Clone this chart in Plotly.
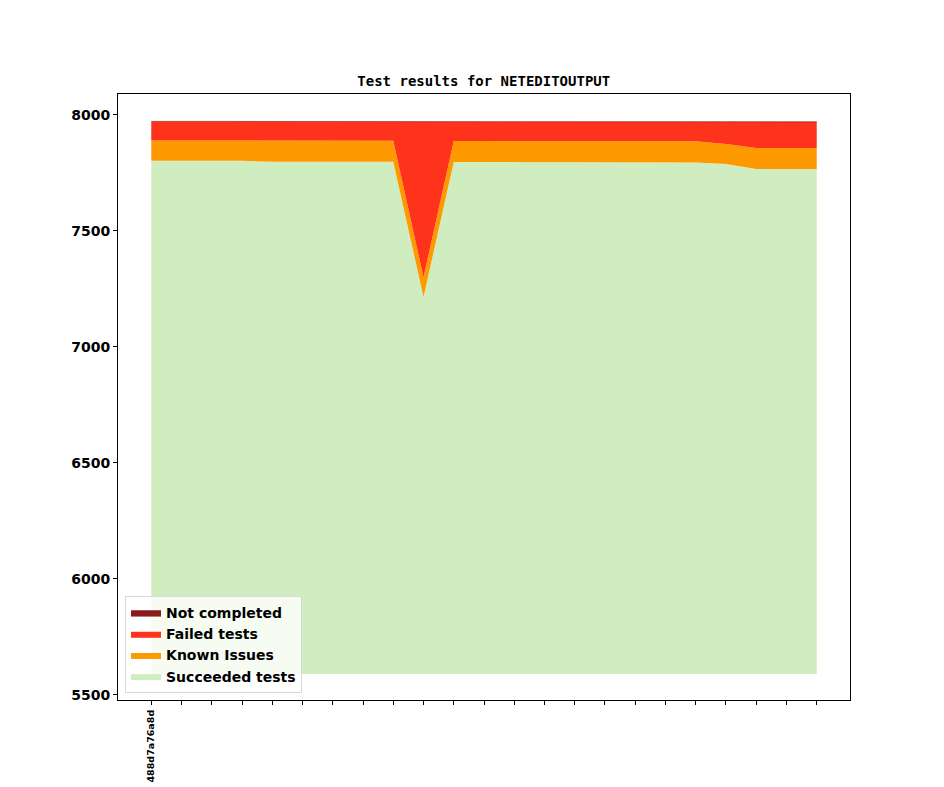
import numpy as np
import plotly.graph_objects as go

# Test runs (one per commit), only the first commit is labelled.
commits = ["488d7a76a8d"] + [""] * 22

# Series values.
floor = [5590] * 23
succeeded = [7802, 7802, 7802, 7802, 7798, 7798, 7798, 7798, 7798, 7215, 7797, 7797,
             7797, 7797, 7797, 7797, 7797, 7797, 7795, 7788, 7767, 7767, 7767]
known_issues = [88, 88, 88, 88, 90, 90, 90, 90, 90, 85, 90, 90,
                90, 90, 90, 90, 90, 90, 91, 87, 90, 90, 90]
failed = [81, 81, 81, 81, 83, 83, 83, 83, 83, 671, 84, 84,
          84, 84, 84, 84, 84, 84, 85, 96, 112, 112, 112]
not_completed = [1] * 23

x = list(range(len(commits)))

# Stack the layers on top of the floor.
layers = [
    ("Succeeded tests", succeeded, "#cfedbf"),
    ("Known Issues", known_issues, "#ff9900"),
    ("Failed tests", failed, "#ff321c"),
    ("Not completed", not_completed, "#8b1a1a"),
]

fig = go.Figure()
fig.add_trace(go.Scatter(x=x, y=floor, mode="lines", line=dict(width=0),
                         showlegend=False, hoverinfo="skip"))

level = np.zeros(len(x))
for i, (name, values, color) in enumerate(layers):
    if i == 0:
        level = np.array(values, dtype=float)
    else:
        level = level + np.array(values, dtype=float)
    width = 0.6 if name == "Not completed" else 0
    fig.add_trace(go.Scatter(x=x, y=level, name=name, mode="lines",
                             fill="tonexty", fillcolor=color,
                             line=dict(width=width, color=color)))

# The page puts the figure 8px in from the top left, so the margins make up for it.
fig.update_layout(
    width=944, height=787,
    paper_bgcolor="white", plot_bgcolor="white",
    margin=dict(l=110, r=102, t=86, b=95, autoexpand=False),
    title=dict(text="Test results for NETEDITOUTPUT", x=0.504, xanchor="center",
               y=0.907, yanchor="middle",
               font=dict(family="DejaVu Sans Mono", size=14, color="black", weight="bold")),
    font=dict(family="DejaVu Sans", color="black"),
    legend=dict(x=0.0096, y=0.0116, xanchor="left", yanchor="bottom",
                traceorder="reversed", bgcolor="rgba(255,255,255,0.8)",
                bordercolor="#d9d9d9", borderwidth=1,
                font=dict(family="DejaVu Sans", size=14, weight="bold"),
                tracegroupgap=0),
)

fig.update_xaxes(range=[-1.1, 23.1], tickmode="array", tickvals=x, ticktext=commits,
                 tickangle=-90, ticks="outside", ticklen=4, tickcolor="black",
                 showline=True, linecolor="black", linewidth=1, mirror=True,
                 showgrid=False, zeroline=False, automargin=False,
                 ticklabelstandoff=1,
                 tickfont=dict(family="DejaVu Sans", size=9.5, weight="bold"))
fig.update_yaxes(range=[5478, 8090], tickmode="linear", tick0=5500, dtick=500,
                 ticks="outside", ticklen=4, tickcolor="black",
                 showline=True, linecolor="black", linewidth=1, mirror=True,
                 showgrid=False, zeroline=False, automargin=False,
                 tickfont=dict(family="DejaVu Sans", size=14, weight="bold"))

fig.write_html("out.html")
